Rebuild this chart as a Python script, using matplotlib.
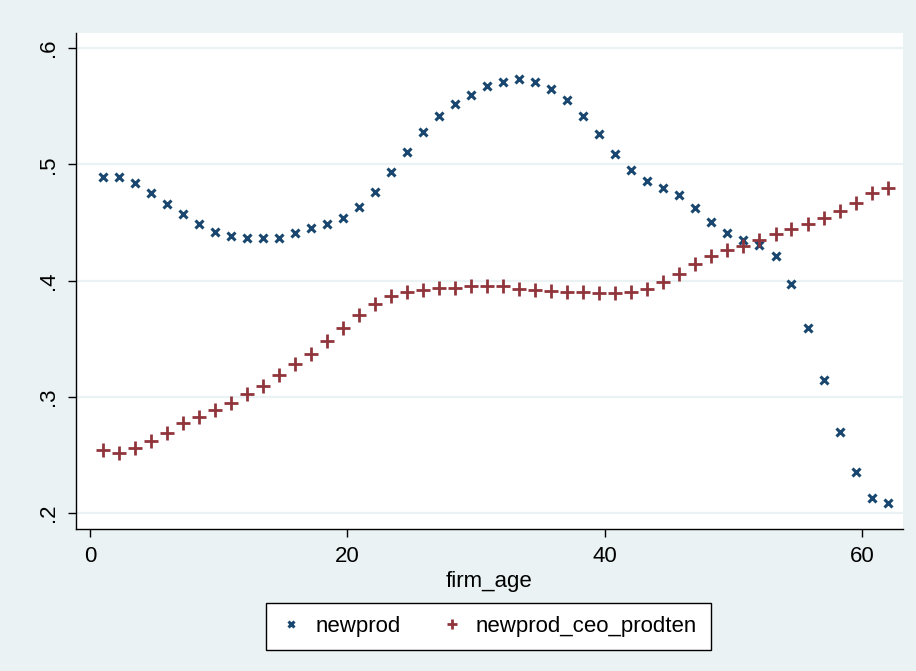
import matplotlib
matplotlib.use("Agg")
import matplotlib.pyplot as plt

plt.rcParams['font.family'] = ['Liberation Sans', 'DejaVu Sans']

firm_age = [1.00, 2.24, 3.49, 4.73, 5.98, 7.22, 8.47, 9.71, 10.96, 12.20,
            13.45, 14.69, 15.94, 17.18, 18.43, 19.67, 20.92, 22.16, 23.41, 24.65,
            25.90, 27.14, 28.39, 29.63, 30.88, 32.12, 33.37, 34.61, 35.86, 37.10,
            38.35, 39.59, 40.84, 42.08, 43.33, 44.57, 45.82, 47.06, 48.31, 49.55,
            50.80, 52.04, 53.29, 54.53, 55.78, 57.02, 58.27, 59.51, 60.76, 62.00]

newprod = [0.489, 0.489, 0.484, 0.475, 0.466, 0.457, 0.449, 0.442, 0.438, 0.437,
           0.437, 0.437, 0.441, 0.445, 0.449, 0.454, 0.463, 0.476, 0.493, 0.511,
           0.528, 0.542, 0.552, 0.560, 0.567, 0.571, 0.573, 0.571, 0.565, 0.555,
           0.542, 0.526, 0.509, 0.495, 0.486, 0.480, 0.474, 0.462, 0.450, 0.441,
           0.435, 0.431, 0.421, 0.397, 0.359, 0.314, 0.270, 0.235, 0.213, 0.209]

newprod_ceo_prodten = [0.254, 0.252, 0.256, 0.262, 0.269, 0.277, 0.283, 0.289, 0.295, 0.302,
                       0.309, 0.319, 0.328, 0.337, 0.348, 0.359, 0.370, 0.380, 0.387, 0.390,
                       0.392, 0.394, 0.394, 0.395, 0.395, 0.395, 0.393, 0.392, 0.391, 0.390,
                       0.390, 0.389, 0.389, 0.390, 0.393, 0.399, 0.406, 0.414, 0.421, 0.426,
                       0.430, 0.435, 0.440, 0.444, 0.449, 0.454, 0.460, 0.467, 0.475, 0.480]

x_ticks = [0, 20, 40, 60]
y_ticks = [0.2, 0.3, 0.4, 0.5, 0.6]
y_ticklabels = ['.2', '.3', '.4', '.5', '.6']

BG = '#EAF2F3'
NAVY = '#1A476F'
MAROON = '#90353B'

fig = plt.figure(figsize=(9.16, 6.71), dpi=100, facecolor=BG)
ax = fig.add_axes([76/916, 1-529/671, (903-76)/916, (529-33)/671])
ax.set_facecolor('white')

for yv in y_ticks:
    ax.axhline(yv, color=BG, lw=1.6, zorder=1)

ax.plot(firm_age, newprod, linestyle='none', marker='x', ms=6, mew=2.2,
        color=NAVY, label='newprod', zorder=3)
ax.plot(firm_age, newprod_ceo_prodten, linestyle='none', marker='+', ms=10, mew=2.0,
        color=MAROON, label='newprod_ceo_prodten', zorder=3)

ax.set_xlim(-1.09, 63.2)
ax.set_ylim(0.1862, 0.613)
ax.set_xticks(x_ticks)
ax.set_xticklabels([str(v) for v in x_ticks])
ax.set_yticks(y_ticks)
ax.set_yticklabels(y_ticklabels, rotation=90, va='center')
ax.tick_params(axis='both', direction='out', length=6, width=1, color='black',
               labelsize=16, pad=6)

for s in ['top', 'right']:
    ax.spines[s].set_visible(False)
for s in ['left', 'bottom']:
    ax.spines[s].set_color('black')
    ax.spines[s].set_linewidth(1.0)

ax.set_xlabel('firm_age', fontsize=16, labelpad=3)

leg = fig.legend(loc='center', bbox_to_anchor=(488.5/916, 1-626.5/671), ncol=2,
                 fontsize=16, frameon=True, fancybox=False, edgecolor='black',
                 facecolor='white', framealpha=1, handlelength=1.0,
                 handletextpad=0.6, columnspacing=1.8, borderpad=0.6)
leg.get_frame().set_linewidth(1.0)
for h in leg.legend_handles:
    h.set_markersize(h.get_markersize() * 0.75)

fig.savefig('out.png', dpi=100, facecolor=BG)
